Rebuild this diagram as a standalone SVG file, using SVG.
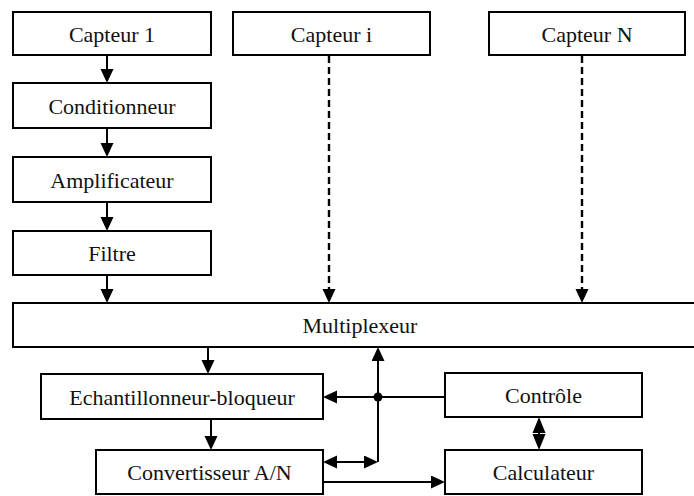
<svg xmlns="http://www.w3.org/2000/svg" width="694" height="496" viewBox="0 0 694 496">
  <style>
    .box { fill: #fff; stroke: #000; stroke-width: 2; }
    .lbl { font-family: "Liberation Serif", "Times New Roman", serif; font-size: 22px; fill: #111; text-anchor: middle; }
    .wire { fill: none; stroke: #000; stroke-width: 2; }
    .dash { stroke-dasharray: 7 4; stroke-width: 2.4; }
    .arr { marker-end: url(#head); }
    .both { marker-start: url(#head); marker-end: url(#head); }
  </style>
  <defs>
    <!-- filled triangular arrowhead; the base sits on the line end, the tip extends 14px beyond -->
    <marker id="head" markerUnits="userSpaceOnUse" markerWidth="15" markerHeight="14" refX="0" refY="6.5" orient="auto-start-reverse">
      <path d="M0,0 L14,6.5 L0,13 Z" fill="#000"/>
    </marker>
  </defs>

  <!-- connectors -->
  <g id="connectors">
    <line class="wire arr" x1="107" y1="55" x2="107" y2="69"/>
    <line class="wire arr" x1="107" y1="128" x2="107" y2="143"/>
    <line class="wire arr" x1="107" y1="202" x2="107" y2="217"/>
    <line class="wire arr" x1="107" y1="275" x2="107" y2="289"/>
    <line class="wire dash arr" x1="329" y1="56" x2="329" y2="289"/>
    <line class="wire dash arr" x1="582" y1="56" x2="582" y2="289"/>
    <line class="wire arr" x1="208" y1="347" x2="208" y2="360"/>
    <line class="wire arr" x1="211" y1="419" x2="211" y2="436"/>
    <!-- control bus -->
    <line class="wire arr" x1="378" y1="462" x2="378" y2="361"/>
    <line class="wire arr" x1="445" y1="397" x2="337" y2="397"/>
    <circle cx="378" cy="397" r="4.5" fill="#000"/>
    <line class="wire both" x1="337" y1="462" x2="364" y2="462"/>
    <line class="wire arr" x1="323" y1="482" x2="431" y2="482"/>
    <!-- Contrôle / Calculateur exchange -->
    <line class="wire" x1="539" y1="425" x2="539" y2="442"/>
    <polygon points="539,417 532.5,433 545.5,433" fill="#000"/>
    <polygon points="539,450 532.5,434 545.5,434" fill="#000"/>
  </g>

  <g id="capteur1"><rect class="box" x="13" y="12" width="198" height="43"/><text class="lbl" x="112" y="41.5">Capteur 1</text></g>
  <g id="capteuri"><rect class="box" x="233" y="12" width="197" height="43"/><text class="lbl" x="331.5" y="41.5">Capteur i</text></g>
  <g id="capteurN"><rect class="box" x="489" y="12" width="196" height="43"/><text class="lbl" x="587" y="41.5">Capteur N</text></g>
  <g id="conditionneur"><rect class="box" x="13" y="83" width="198" height="45"/><text class="lbl" x="112" y="114">Conditionneur</text></g>
  <g id="amplificateur"><rect class="box" x="13" y="157" width="198" height="45"/><text class="lbl" x="112" y="188">Amplificateur</text></g>
  <g id="filtre"><rect class="box" x="13" y="231" width="198" height="44"/><text class="lbl" x="112" y="261">Filtre</text></g>
  <g id="multiplexeur"><rect class="box" x="13" y="303" width="694" height="44"/><text class="lbl" x="360" y="333">Multiplexeur</text></g>
  <g id="echantillonneur"><rect class="box" x="41" y="374" width="282" height="45"/><text class="lbl" x="182" y="405">Echantillonneur-bloqueur</text></g>
  <g id="convertisseur"><rect class="box" x="96" y="450" width="227" height="44"/><text class="lbl" x="209.5" y="480">Convertisseur A/N</text></g>
  <g id="controle"><rect class="box" x="445" y="373" width="197" height="44"/><text class="lbl" x="543.5" y="403">Contrôle</text></g>
  <g id="calculateur"><rect class="box" x="445" y="450" width="197" height="44"/><text class="lbl" x="543.5" y="480">Calculateur</text></g>
</svg>
